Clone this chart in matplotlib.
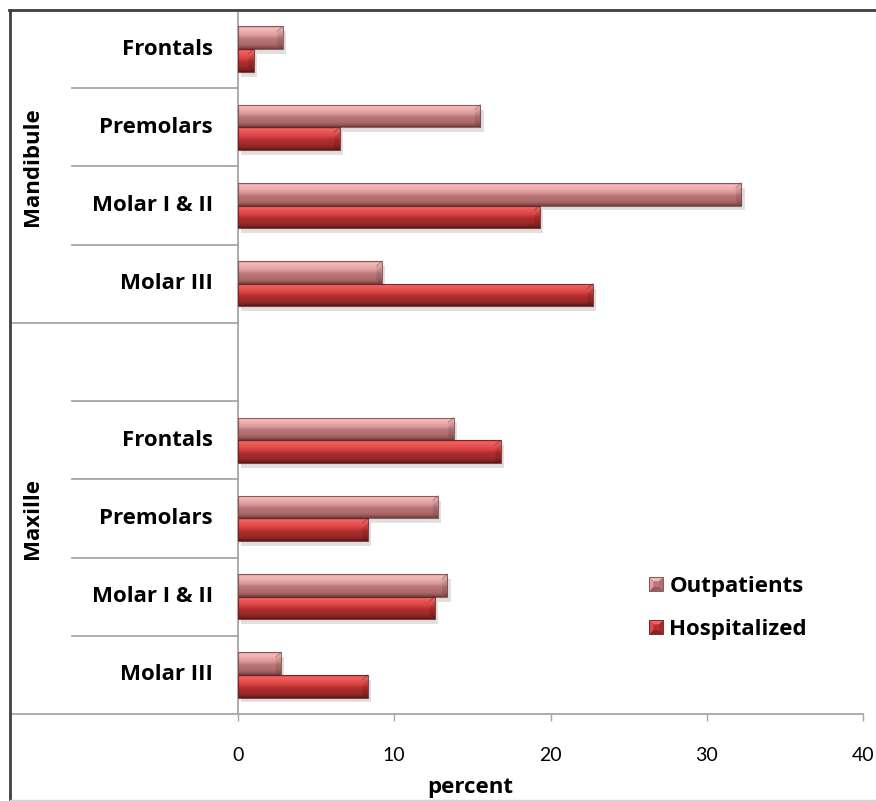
import numpy as np
import matplotlib
matplotlib.use("Agg")
import matplotlib.pyplot as plt
from matplotlib.colors import LinearSegmentedColormap
from matplotlib.patches import Rectangle, Polygon, Patch
from matplotlib.lines import Line2D
from matplotlib import patheffects
import matplotlib.transforms as mtransforms

# ---- data (percent of fractures by tooth region) ----
groups = ["Mandibule", "Maxille"]
categories = ["Frontals", "Premolars", "Molar I & II", "Molar III"]
outpatients_mandibule = [2.85, 15.5, 32.2, 9.2]
hospitalized_mandibule = [1.0, 6.5, 19.3, 22.7]
outpatients_maxille = [13.8, 12.8, 13.4, 2.75]
hospitalized_maxille = [16.8, 8.3, 12.6, 8.3]
series_names = ["Outpatients", "Hospitalized"]
x_ticks = [0, 10, 20, 30, 40]

# Rows from top to bottom; the Maxille group carries one empty row
row_labels = categories + [""] + categories
out_vals = outpatients_mandibule + [np.nan] + outpatients_maxille
hosp_vals = hospitalized_mandibule + [np.nan] + hospitalized_maxille
group_rows = {"Mandibule": (0, 3), "Maxille": (4, 8)}

W, H = 876, 801
fig = plt.figure(figsize=(W / 100, H / 100), dpi=100)
fig.patch.set_facecolor("white")
plt.rcParams["font.family"] = ["Open Sans", "DejaVu Sans"]
LABEL_FONT = {"family": ["Open Sans", "DejaVu Sans"], "weight": "bold", "size": 16}

ax = fig.add_axes([238 / W, 1 - 714 / H, (863 - 238) / W, (714 - 10) / H])

out_cmap = LinearSegmentedColormap.from_list("out", [
    (0.0, "#d28a8a"), (0.08, "#f4bcbc"), (0.22, "#eeaeae"), (0.42, "#d99797"),
    (0.55, "#bb7878"), (0.82, "#aa6868"), (0.92, "#905454"), (1.0, "#6a3a3a")])
hosp_cmap = LinearSegmentedColormap.from_list("hosp", [
    (0.0, "#d03838"), (0.08, "#f26464"), (0.22, "#ea5454"), (0.42, "#d64242"),
    (0.55, "#b42f2f"), (0.82, "#962828"), (0.92, "#802020"), (1.0, "#5a1414")])

bar_h = 0.29
grad = np.linspace(0, 1, 64).reshape(-1, 1)
bevel_y = 0.06      # bevel depth in row units
bevel_x = 0.33      # bevel depth in percent units
shadow = [patheffects.SimplePatchShadow(offset=(2.5, -3.5), shadow_rgbFace="#9a9a9a", alpha=0.3),
          patheffects.Normal()]


def beveled_bar(y_center, value, cmap, edge):
    if np.isnan(value):
        return
    top = y_center - bar_h / 2
    bot = y_center + bar_h / 2
    rect = Rectangle((0, top), value, bar_h, facecolor=cmap(0.5), edgecolor="none",
                     zorder=2)
    rect.set_path_effects(shadow)
    ax.add_patch(rect)
    im = ax.imshow(grad, cmap=cmap, extent=(0, value, bot, top), origin="upper",
                   aspect="auto", interpolation="bilinear", zorder=3)
    im.set_clip_path(rect)
    d = min(bevel_x, value / 2)
    # right end face
    ax.add_patch(Polygon([(value, top), (value - d, top + bevel_y), (value - d, bot - bevel_y),
                          (value, bot)], closed=True, facecolor="black", alpha=0.10,
                         edgecolor="none", zorder=4))
    ax.add_patch(Polygon([(value, top), (value - d, top + bevel_y), (value - d, top + 2 * bevel_y),
                          (value, top + bevel_y)], closed=True, facecolor="white", alpha=0.10,
                         edgecolor="none", zorder=4))
    ax.plot([value - d, value], [top + bevel_y, top], color=edge, lw=0.6, alpha=0.5, zorder=5)
    ax.plot([value - d, value], [bot - bevel_y, bot], color=edge, lw=0.6, alpha=0.5, zorder=5)
    ax.add_patch(Rectangle((0, top), value, bar_h, facecolor="none", edgecolor=edge,
                           lw=0.8, alpha=0.8, zorder=5))


rows = np.arange(len(row_labels))
for r, ov, hv in zip(rows, out_vals, hosp_vals):
    beveled_bar(r - bar_h / 2, ov, out_cmap, "#7a4646")
    beveled_bar(r + bar_h / 2, hv, hosp_cmap, "#6a1c1c")

ax.set_xlim(0, 40)
ax.set_ylim(len(row_labels) - 0.5, -0.5)
ax.set_xticks(x_ticks)
ax.set_xticklabels([str(t) for t in x_ticks], fontsize=14, family=["Lato", "DejaVu Sans"])
ax.tick_params(axis="x", direction="out", length=5, width=1.0, color="#a6a6a6", pad=19)
ax.set_yticks([])
for side in ("top", "right"):
    ax.spines[side].set_visible(False)
for side in ("left", "bottom"):
    ax.spines[side].set_color("#a6a6a6")
    ax.spines[side].set_linewidth(1.3)

# category labels and divider lines in the label area
blend = mtransforms.blended_transform_factory(ax.transAxes, ax.transData)
inner_x = (72 - 238) / (863 - 238)
outer_x = (10 - 238) / (863 - 238)
for r, lab in zip(rows, row_labels):
    if lab:
        ax.text(-0.04, r, lab, transform=blend, ha="right", va="center",
                color="black", **LABEL_FONT)
for g, (r0, r1) in group_rows.items():
    for b in np.arange(r0 + 0.5, r1, 1.0):
        ax.plot([inner_x, 0], [b, b], transform=blend, color="#a6a6a6", lw=1.3,
                clip_on=False)
    ax.plot([outer_x, 0], [r1 + 0.5, r1 + 0.5], transform=blend, color="#a6a6a6", lw=1.3,
            clip_on=False)
    ax.text((33 - 238) / (863 - 238), (r0 + r1) / 2, g, transform=blend, rotation=90,
            ha="center", va="center", color="black", **LABEL_FONT)

fig.text(470 / W, 1 - 788 / H, "percent", ha="center", va="center", **LABEL_FONT)


# legend with small beveled squares
class BevelSquare:
    def __init__(self, cmap):
        self.cmap = cmap

    def legend_artist(self, legend, orig_handle, fontsize, handlebox):
        x0, y0 = -handlebox.xdescent, -handlebox.ydescent
        s = handlebox.height
        tr = handlebox.get_transform()
        c = self.cmap
        e = s * 0.3
        base = Rectangle((x0, y0), s, s, facecolor=c(0.55), edgecolor="none", transform=tr)
        handlebox.add_artist(base)
        tri = [
            ([(x0, y0 + s), (x0 + s, y0 + s), (x0 + s - e, y0 + s - e), (x0 + e, y0 + s - e)], c(0.1)),
            ([(x0, y0), (x0 + s, y0), (x0 + s - e, y0 + e), (x0 + e, y0 + e)], c(0.88)),
            ([(x0, y0), (x0, y0 + s), (x0 + e, y0 + s - e), (x0 + e, y0 + e)], c(0.35)),
            ([(x0 + s, y0), (x0 + s, y0 + s), (x0 + s - e, y0 + s - e), (x0 + s - e, y0 + e)], c(0.7)),
        ]
        for pts, col in tri:
            handlebox.add_artist(Polygon(pts, closed=True, facecolor=col, edgecolor="none",
                                         transform=tr))
        handlebox.add_artist(Rectangle((x0, y0), s, s, facecolor="none", edgecolor=c(0.95),
                                       lw=0.6, transform=tr))
        return base


h_out = Patch(label=series_names[0])
h_hosp = Patch(label=series_names[1])
leg = ax.legend([h_out, h_hosp], series_names, loc="center left",
                bbox_to_anchor=(629 / W, 1 - 608 / H), bbox_transform=fig.transFigure,
                frameon=False, handlelength=0.62, handleheight=0.62, handletextpad=0.3,
                labelspacing=1.0, prop=LABEL_FONT,
                handler_map={h_out: BevelSquare(out_cmap), h_hosp: BevelSquare(hosp_cmap)})

# outer chart frame
fig.add_artist(Line2D([9 / W, 1], [1 - 10 / H] * 2, transform=fig.transFigure,
                      color="#404040", lw=2))
fig.add_artist(Line2D([10 / W] * 2, [0, 1 - 10 / H], transform=fig.transFigure,
                      color="#404040", lw=2))
fig.add_artist(Line2D([10 / W, 1], [1 - 799.5 / H] * 2, transform=fig.transFigure,
                      color="#d4d4d4", lw=1))

fig.savefig("out.png", dpi=100, facecolor="white")
